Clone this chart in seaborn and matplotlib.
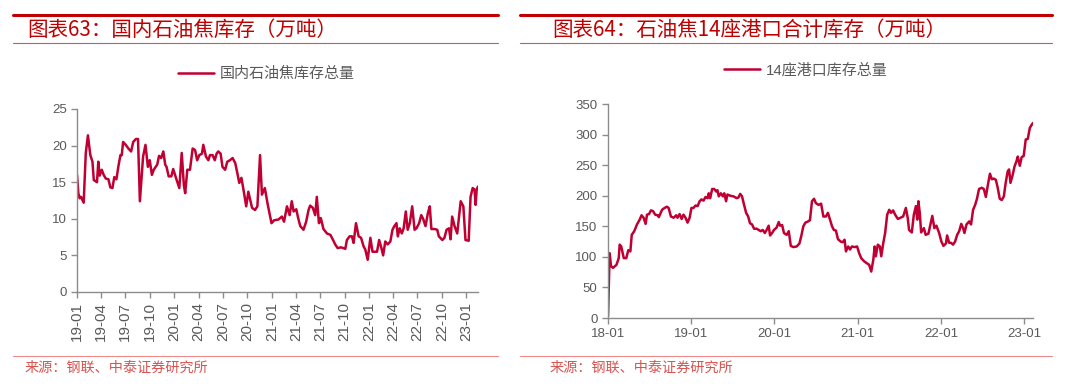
import pandas as pd
import seaborn as sns
import matplotlib
matplotlib.use("Agg")
import matplotlib.pyplot as plt
import matplotlib.dates as mdates
from matplotlib.lines import Line2D

# 图表63 国内石油焦库存（万吨），横轴为距 2019-01-01 的天数
left_start = "2019-01-01"
left_days = [0, 5, 10, 15, 20, 25, 33, 41, 50, 58, 63, 75, 80, 85, 93, 100, 108, 118, 125, 133,
             140, 148, 155, 163, 168, 173, 183, 193, 203, 211, 221, 229, 236, 248, 257, 266, 273, 281, 288, 301,
             308, 316, 324, 331, 336, 344, 354, 361, 374, 384, 393, 401, 406, 414, 424, 434, 443, 451, 459, 469,
             474, 484, 493, 499, 509, 517, 524, 530, 539, 546, 556, 564, 574, 584, 594, 602, 609, 617, 627, 635,
             643, 650, 657, 668, 677, 687, 694, 705, 715, 730, 740, 756, 769, 777, 788, 798, 806, 813, 823, 830,
             838, 850, 860, 869, 875, 885, 894, 900, 908, 915, 925, 938, 951, 961, 969, 978, 991, 1007, 1013, 1023,
             1032, 1038, 1047, 1057, 1066, 1076, 1082, 1091, 1101, 1109, 1126, 1134, 1141, 1149, 1157, 1166, 1176, 1184, 1191, 1199,
             1204, 1211, 1219, 1226, 1234, 1241, 1249, 1258, 1267, 1274, 1284, 1292, 1299, 1308, 1317, 1324, 1330, 1342, 1352, 1358,
             1371, 1379, 1387, 1396, 1402, 1408, 1417, 1427, 1440, 1450, 1458, 1470, 1477, 1485, 1492, 1496, 1500, 1505]
left_vals = [16.0, 13.5, 12.8, 13.0, 12.6, 12.2, 19.0, 21.4, 18.7, 17.8, 15.3, 15.0, 17.8, 15.9, 16.7, 16.0, 15.5, 15.4, 14.3, 14.2,
             15.7, 15.4, 17.1, 18.7, 18.7, 20.5, 20.1, 19.6, 19.2, 20.5, 20.9, 20.9, 12.4, 18.5, 20.1, 17.1, 18.0, 16.0, 16.7, 17.4,
             18.6, 18.3, 19.2, 17.4, 17.1, 15.8, 15.8, 16.8, 15.3, 14.2, 19.0, 14.6, 13.5, 16.7, 16.7, 19.6, 19.4, 18.0, 18.7, 18.9,
             20.1, 18.5, 18.0, 18.7, 18.7, 18.0, 18.9, 19.2, 18.9, 17.1, 16.7, 17.8, 18.0, 18.3, 17.6, 16.2, 14.9, 15.6, 13.5, 11.7,
             13.7, 12.6, 11.5, 11.2, 11.7, 18.7, 13.3, 14.2, 12.1, 9.4, 9.8, 9.9, 10.3, 9.6, 11.7, 10.5, 12.4, 11.0, 11.3, 10.1,
             9.0, 8.5, 9.6, 11.2, 11.8, 11.5, 10.5, 13.0, 9.4, 10.1, 8.6, 8.0, 7.8, 7.1, 6.5, 6.0, 6.1, 5.9, 7.1, 7.6,
             7.6, 6.7, 9.4, 7.6, 7.4, 6.2, 5.8, 4.4, 7.4, 5.5, 5.5, 7.1, 6.2, 5.0, 6.9, 6.5, 6.9, 8.5, 9.0, 9.4,
             7.6, 8.7, 8.0, 8.7, 11.0, 8.5, 9.4, 11.7, 8.5, 8.7, 9.4, 10.5, 10.0, 9.0, 10.8, 11.7, 8.6, 8.6, 8.5, 7.6,
             7.1, 7.4, 8.5, 8.7, 7.2, 10.3, 9.0, 8.0, 12.4, 11.7, 7.1, 7.0, 13.0, 14.2, 14.0, 11.9, 14.0, 14.4]

# 图表64 石油焦14座港口合计库存（万吨），横轴为距 2018-01-01 的天数
right_start = "2018-01-01"
right_days = [0, 7, 13, 22, 37, 47, 51, 58, 69, 80, 89, 98, 104, 115, 127, 139, 147, 156, 165, 171,
              180, 188, 197, 207, 218, 223, 237, 248, 258, 266, 276, 288, 299, 305, 314, 323, 331, 340, 349, 358,
              366, 375, 384, 393, 402, 410, 419, 428, 437, 442, 448, 457, 466, 474, 480, 486, 495, 504, 510, 518,
              524, 536, 550, 565, 572, 580, 588, 597, 606, 615, 623, 632, 641, 653, 661, 670, 679, 688, 696, 705,
              711, 720, 728, 740, 749, 755, 764, 772, 784, 793, 802, 813, 828, 840, 848, 857, 866, 878,
              886, 895, 904, 912, 924, 935, 945, 956, 965, 974, 983, 991, 1000, 1009, 1021, 1030, 1038, 1044, 1054, 1062,
              1070, 1082, 1093, 1102, 1111, 1123, 1134, 1146, 1155, 1164, 1170, 1175, 1184, 1193, 1199, 1208, 1216, 1225, 1234, 1242,
              1251, 1260, 1272, 1283, 1295, 1307, 1315, 1321, 1333, 1342, 1351, 1357, 1362, 1368, 1374, 1386, 1394, 1406, 1415, 1423,
              1432, 1441, 1453, 1463, 1472, 1483, 1488, 1497, 1505, 1514, 1523, 1532, 1541, 1550, 1558, 1564, 1573, 1585, 1593, 1602,
              1611, 1619, 1628, 1640, 1649, 1658, 1667, 1676, 1684, 1693, 1702, 1710, 1719, 1728, 1737, 1745, 1754, 1760, 1766, 1775,
              1784, 1792, 1798, 1807, 1815, 1824, 1833, 1842, 1851, 1859, 1865]
right_vals = [3, 106, 85, 82, 87, 98, 120, 117, 98, 98, 111, 109, 136, 142, 153, 161, 168, 164, 154, 169,
              170, 176, 175, 169, 168, 165, 177, 180, 182, 180, 166, 164, 168, 164, 170, 162, 169, 164, 156, 164,
              180, 180, 184, 183, 191, 194, 192, 198, 196, 204, 196, 211, 211, 207, 209, 199, 204, 199, 204, 191,
              202, 200, 199, 196, 197, 203, 199, 185, 172, 166, 155, 153, 146, 146, 144, 142, 144, 139, 144, 151,
              135, 139, 144, 148, 157, 151, 152, 139, 136, 142, 118, 116, 117, 122, 134, 150, 156, 158,
              160, 191, 195, 188, 185, 187, 166, 166, 172, 161, 150, 144, 143, 129, 125, 124, 128, 109, 117, 112,
              117, 116, 117, 106, 98, 93, 90, 87, 76, 95, 117, 101, 120, 117, 101, 123, 139, 169, 177, 172,
              176, 169, 162, 164, 166, 180, 164, 144, 140, 169, 183, 161, 191, 172, 140, 147, 136, 138, 153, 167,
              147, 151, 139, 125, 118, 122, 135, 123, 123, 120, 125, 136, 142, 154, 147, 139, 153, 158, 153, 177,
              185, 195, 211, 213, 211, 198, 218, 236, 227, 228, 226, 213, 195, 193, 199, 221, 240, 243, 221, 233,
              248, 256, 264, 249, 263, 265, 292, 293, 311, 316, 319]

left_title = "图表63：国内石油焦库存（万吨）"
right_title = "图表64：石油焦14座港口合计库存（万吨）"
left_label = "国内石油焦库存总量"
right_label = "14座港口库存总量"
source = "来源：钢联、中泰证券研究所"

sns.set_style("white")
plt.rcParams['font.family'] = ['Liberation Sans', 'Noto Sans CJK SC', 'DejaVu Sans']
plt.rcParams['axes.unicode_minus'] = False

RED = "#C00032"
HEAD = "#C00000"
GRAY = "#595959"
AXC = "#8C8C8C"

df_left = pd.DataFrame({"date": pd.Timestamp(left_start) + pd.to_timedelta(left_days, unit="D"),
                        "value": left_vals})
df_right = pd.DataFrame({"date": pd.Timestamp(right_start) + pd.to_timedelta(right_days, unit="D"),
                         "value": right_vals})

fig = plt.figure(figsize=(10.8, 3.89), dpi=100)
ax1 = fig.add_axes([0.0713, 0.2494, 0.3713, 0.4704])
ax2 = fig.add_axes([0.563, 0.1825, 0.3935, 0.5501])

sns.lineplot(data=df_left, x="date", y="value", ax=ax1, color=RED, linewidth=1.8, label=left_label)
sns.lineplot(data=df_right, x="date", y="value", ax=ax2, color=RED, linewidth=1.8, label=right_label)


def style_axis(ax, fs):
    ax.set_xlabel("")
    ax.set_ylabel("")
    for s in ["top", "right"]:
        ax.spines[s].set_visible(False)
    for s in ["left", "bottom"]:
        ax.spines[s].set_color(AXC)
        ax.spines[s].set_linewidth(1.0)
    ax.tick_params(axis="both", colors=AXC, labelcolor=GRAY, labelsize=fs,
                   direction="out", length=4, width=1.0, left=True, bottom=True)
    ax.grid(False)


# 左图
ax1.set_ylim(0, 25)
ax1.set_yticks(range(0, 26, 5))
ax1.set_xlim(df_left["date"].iloc[0], df_left["date"].iloc[-1])
ax1.xaxis.set_major_locator(mdates.MonthLocator(bymonth=[1, 4, 7, 10]))
ax1.xaxis.set_major_formatter(mdates.DateFormatter("%y-%m"))
style_axis(ax1, 9.5)
ax1.tick_params(axis="x", labelsize=11)
plt.setp(ax1.get_xticklabels(), rotation=90)

# 右图
ax2.set_ylim(0, 350)
ax2.set_yticks(range(0, 351, 50))
ax2.set_xlim(df_right["date"].iloc[0], df_right["date"].iloc[-1])
ax2.xaxis.set_major_locator(mdates.YearLocator())
ax2.xaxis.set_major_formatter(mdates.DateFormatter("%y-%m"))
style_axis(ax2, 9.5)

# 图例
for ax, x, y in [(ax1, 0.152, 0.81), (ax2, 0.658, 0.82)]:
    ax.legend(loc="center left", bbox_to_anchor=(x, y), bbox_transform=fig.transFigure,
              frameon=False, fontsize=10.8, handlelength=2.4, handletextpad=0.4,
              labelcolor=GRAY)

# 标题、分隔线和来源
def hline(y, x0, x1, lw, color):
    fig.add_artist(Line2D([x0 / 1080, x1 / 1080], [1 - y / 389, 1 - y / 389],
                          color=color, linewidth=lw, transform=fig.transFigure))


for x0, x1, tx, title in [(13, 498, 27, left_title), (520, 1052, 552, right_title)]:
    hline(15, x0, x1, 2.2, HEAD)
    hline(43, x0, x1, 0.8, "#D9534F")
    hline(356, x0, x1, 0.8, "#EE8A8A")
    fig.text(tx / 1080, 1 - 30 / 389, title, fontsize=14.8, color=HEAD, style="italic",
             va="center", ha="left", family=['Noto Sans CJK SC', 'DejaVu Sans'])
    fig.text((tx - 2) / 1080, 1 - 368 / 389, source, fontsize=10.2, color="#D9534F",
             va="center", ha="left", family=['Noto Sans CJK SC', 'DejaVu Sans'])

fig.savefig("out.png", dpi=100)
